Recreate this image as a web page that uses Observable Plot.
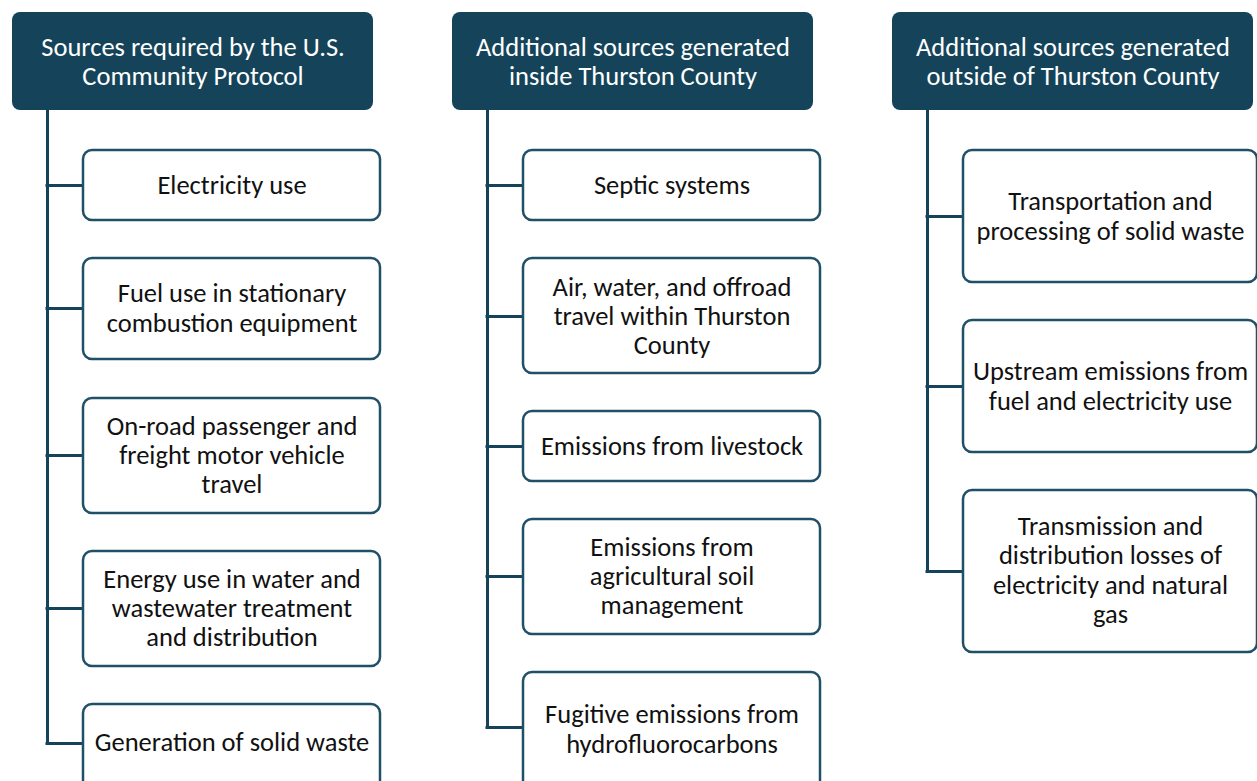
<!DOCTYPE html>
<html><head><meta charset="utf-8">
<script src="https://cdn.jsdelivr.net/npm/d3@7"></script>
<script src="https://cdn.jsdelivr.net/npm/@observablehq/plot@0.6"></script>
<style>body{margin:0;background:#fff}svg{display:block}</style>
</head><body><div id="chart"></div>
<script>
// --- content ---
const headers = [
  "Sources required by the U.S.\nCommunity Protocol",
  "Additional sources generated\ninside Thurston County",
  "Additional sources generated\noutside of Thurston County"
];
const col1Items = [
  "Electricity use",
  "Fuel use in stationary\ncombustion equipment",
  "On-road passenger and\nfreight motor vehicle\ntravel",
  "Energy use in water and\nwastewater treatment\nand distribution",
  "Generation of solid waste"
];
const col2Items = [
  "Septic systems",
  "Air, water, and offroad\ntravel within Thurston\nCounty",
  "Emissions from livestock",
  "Emissions from\nagricultural soil\nmanagement",
  "Fugitive emissions from\nhydrofluorocarbons"
];
const col3Items = [
  "Transportation and\nprocessing of solid waste",
  "Upstream emissions from\nfuel and electricity use",
  "Transmission and\ndistribution losses of\nelectricity and natural\ngas"
];

// --- layout (pixel space) ---
const colLeft = [12, 452, 892];
const headerW = 361, headerTop = 12, headerBottom = 110;
const trunkOffset = 35, childOffset = 71;
const childRight = [380, 820, 1257];
const col1Box = [[150,220],[258,359],[398,513],[551,666],[704,800]];
const col2Box = [[150,220],[258,373],[411,481],[519,634],[672,800]];
const col3Box = [[150,282],[320,452],[490,652]];
const col1Conn = [185,308,455,608,743];
const col2Conn = [185,316,446,576,727];
const col3Conn = [216,386,571];
const col1TextY = [185,308,455,608,742];
const col2TextY = [185,316,446,576,729];
const col3TextY = [216,386,570];

const cols = [
  {items: col1Items, box: col1Box, conn: col1Conn, ty: col1TextY},
  {items: col2Items, box: col2Box, conn: col2Conn, ty: col2TextY},
  {items: col3Items, box: col3Box, conn: col3Conn, ty: col3TextY}
];

const textShift = -1;
const headerRows = headers.map((t, i) => ({
  text: t, x1: colLeft[i], x2: colLeft[i] + headerW, y1: headerTop, y2: headerBottom,
  cx: colLeft[i] + headerW / 2, cy: 61.5 + textShift
}));
const childRows = [], trunkRows = [], connRows = [];
cols.forEach((c, i) => {
  const tx = colLeft[i] + trunkOffset, cxl = colLeft[i] + childOffset;
  c.items.forEach((t, j) => {
    childRows.push({text: t, x1: cxl, x2: childRight[i], y1: c.box[j][0], y2: c.box[j][1],
      cx: (cxl + childRight[i]) / 2, cy: c.ty[j] + textShift});
    connRows.push({y: c.conn[j], x1: tx - 1.5, x2: cxl});
  });
  trunkRows.push({x: tx, y1: headerBottom, y2: c.conn[c.conn.length - 1] + 1.5});
});

const font = "Calibri, Carlito, 'Open Sans', sans-serif";
const chart = Plot.plot({
  width: 1257, height: 781, margin: 0,
  x: {domain: [0, 1257], axis: null},
  y: {domain: [0, 781], reverse: true, axis: null},
  style: {fontFamily: font, background: "#fff"},
  marks: [
    Plot.ruleX(trunkRows, {x: "x", y1: "y1", y2: "y2", stroke: "#15445a", strokeWidth: 3}),
    Plot.ruleY(connRows, {y: "y", x1: "x1", x2: "x2", stroke: "#15445a", strokeWidth: 3}),
    Plot.rect(headerRows, {x1: "x1", x2: "x2", y1: "y1", y2: "y2", fill: "#15445a", rx: 8}),
    Plot.rect(childRows, {x1: "x1", x2: "x2", y1: "y1", y2: "y2", fill: "#fff", stroke: "#1f5068", strokeWidth: 2.5, rx: 9}),
    Plot.text(headerRows, {x: "cx", y: "cy", text: "text", fill: "#fff", fontSize: 26.5, lineHeight: 1.094, fontFamily: font}),
    Plot.text(childRows, {x: "cx", y: "cy", text: "text", fill: "#111", fontSize: 26.5, lineHeight: 1.105, fontFamily: font})
  ]
});
document.getElementById("chart").append(chart);
</script>
</body></html>
